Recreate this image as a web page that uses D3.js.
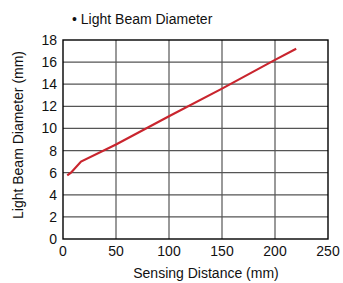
<!DOCTYPE html>
<meta charset="utf-8">
<style>
    body { margin: 0; background: #fff; }
    svg text {
        font-family: "Liberation Sans", Arial, sans-serif;
        font-size: 14px;
        fill: #111;
    }
    .grid line { stroke: #555; stroke-width: 1.2px; }
    .frame { fill: none; stroke: #000; stroke-width: 1.4px; }
    .beam { fill: none; stroke: #c9252e; stroke-width: 2.2px; }
</style>
<svg width="343" height="283"></svg>
<script src="https://cdn.jsdelivr.net/npm/d3@7"></script>
<script>

    // sensing distance (mm) vs light beam diameter (mm)
    var distance = [4, 7.5, 17, 50, 100, 150, 200, 220];
    var diameter = [5.75, 6.0, 7.0, 8.55, 11.1, 13.6, 16.2, 17.2];

    var xTicks = [0, 50, 100, 150, 200, 250];
    var yTicks = [0, 2, 4, 6, 8, 10, 12, 14, 16, 18];

    var title = "\u2022 Light Beam Diameter",
        xTitle = "Sensing Distance (mm)",
        yTitle = "Light Beam Diameter (mm)";

    var svg = d3.select("svg"),
        plotL = 63, plotR = 328, plotT = 40, plotB = 239;

    var x = d3.scaleLinear().domain([0, 250]).range([plotL, plotR]);
    var y = d3.scaleLinear().domain([0, 18]).range([plotB, plotT]);

    var grid = svg.append("g").attr("class", "grid");

    grid.selectAll(".vx")
        .data(xTicks.slice(1, -1))
        .enter().append("line")
        .attr("x1", function (d) { return x(d); })
        .attr("x2", function (d) { return x(d); })
        .attr("y1", plotT)
        .attr("y2", plotB);

    grid.selectAll(".hy")
        .data(yTicks.slice(1, -1))
        .enter().append("line")
        .attr("x1", plotL)
        .attr("x2", plotR)
        .attr("y1", function (d) { return y(d); })
        .attr("y2", function (d) { return y(d); });

    svg.append("rect")
        .attr("class", "frame")
        .attr("x", plotL)
        .attr("y", plotT)
        .attr("width", plotR - plotL)
        .attr("height", plotB - plotT);

    var line = d3.line()
        .x(function (d, i) { return x(distance[i]); })
        .y(function (d) { return y(d); });

    svg.append("path")
        .datum(diameter)
        .attr("class", "beam")
        .attr("d", line);

    // tick labels
    svg.append("g").selectAll("text")
        .data(xTicks)
        .enter().append("text")
        .attr("x", function (d) { return x(d); })
        .attr("y", 256)
        .attr("text-anchor", "middle")
        .text(function (d) { return d; });

    svg.append("g").selectAll("text")
        .data(yTicks)
        .enter().append("text")
        .attr("x", 57)
        .attr("y", function (d) { return y(d) + 5; })
        .attr("text-anchor", "end")
        .text(function (d) { return d; });

    svg.append("text")
        .attr("x", 72)
        .attr("y", 24)
        .text(title);

    svg.append("text")
        .attr("x", 206)
        .attr("y", 278)
        .attr("text-anchor", "middle")
        .text(xTitle);

    svg.append("text")
        .attr("transform", "translate(23,135) rotate(-90)")
        .attr("text-anchor", "middle")
        .text(yTitle);

</script>
